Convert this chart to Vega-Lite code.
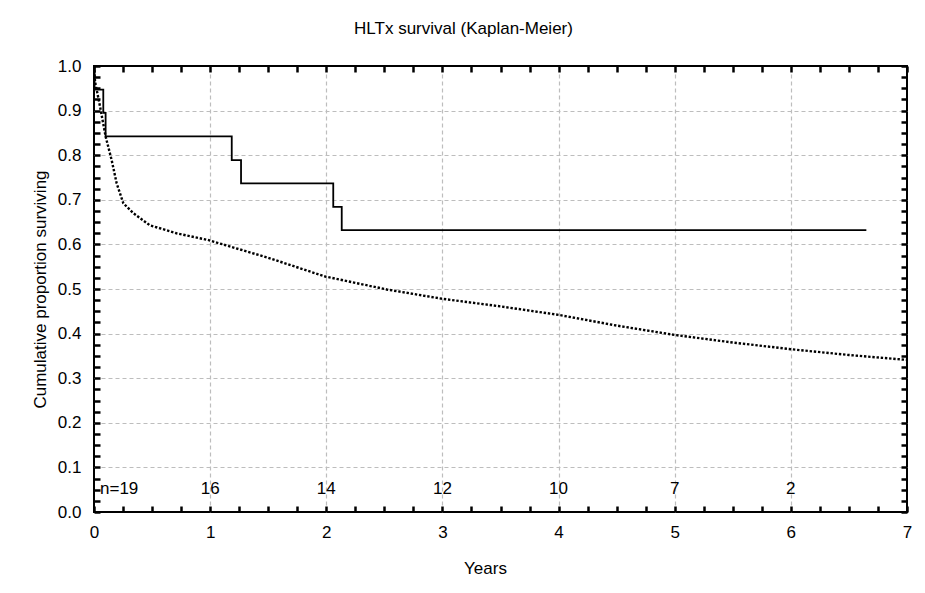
{
  "$schema": "https://vega.github.io/schema/vega-lite/v6.json",
  "autosize": {"type": "none"},
  "padding": {"left": 94, "top": 66, "right": 18, "bottom": 81},
  "width": 813,
  "height": 446,
  "background": "white",
  "title": {"text": "HLTx survival (Kaplan-Meier)", "font": "Liberation Sans", "fontSize": 17, "fontWeight": "normal", "color": "black", "anchor": "middle", "frame": "group", "dx": -37, "offset": 19},
  "config": {"view": {"stroke": "black", "strokeWidth": 2}, "font": "Liberation Sans"},
  "datasets": {
    "km": [
      {"years": 0, "surv": 1.0},
      {"years": 0.005, "surv": 0.947},
      {"years": 0.08, "surv": 0.895},
      {"years": 0.10, "surv": 0.842},
      {"years": 1.186, "surv": 0.789},
      {"years": 1.266, "surv": 0.737},
      {"years": 2.06, "surv": 0.684},
      {"years": 2.133, "surv": 0.632},
      {"years": 6.65, "surv": 0.632}
    ],
    "ref": [
      {"years": 0, "surv": 1.0},
      {"years": 0.009, "surv": 0.965},
      {"years": 0.052, "surv": 0.909},
      {"years": 0.10, "surv": 0.842},
      {"years": 0.152, "surv": 0.789},
      {"years": 0.195, "surv": 0.737},
      {"years": 0.253, "surv": 0.692},
      {"years": 0.339, "surv": 0.670},
      {"years": 0.48, "surv": 0.643},
      {"years": 0.71, "surv": 0.625},
      {"years": 0.98, "surv": 0.610},
      {"years": 1.5, "surv": 0.570},
      {"years": 1.99, "surv": 0.528},
      {"years": 2.52, "surv": 0.499},
      {"years": 3.0, "surv": 0.478},
      {"years": 3.5, "surv": 0.461},
      {"years": 4.0, "surv": 0.442},
      {"years": 4.5, "surv": 0.418},
      {"years": 5.0, "surv": 0.397},
      {"years": 5.5, "surv": 0.380},
      {"years": 6.0, "surv": 0.365},
      {"years": 6.5, "surv": 0.352},
      {"years": 7.0, "surv": 0.341}
    ],
    "risk": [
      {"years": 0, "label": "n=19"},
      {"years": 1, "label": "16"},
      {"years": 2, "label": "14"},
      {"years": 3, "label": "12"},
      {"years": 4, "label": "10"},
      {"years": 5, "label": "7"},
      {"years": 6, "label": "2"}
    ]
  },
  "layer": [
    {
      "data": {"name": "ref"},
      "mark": {"type": "line", "color": "black", "strokeWidth": 2.4, "strokeDash": [2.4, 1.8], "strokeCap": "butt", "clip": true},
      "encoding": {
        "x": {
          "field": "years", "type": "quantitative",
          "scale": {"domain": [0, 7], "nice": false, "zero": false},
          "axis": {
            "orient": "bottom", "title": "Years", "offset": -6, "domain": false,
            "values": [0,0.25,0.5,0.75,1,1.25,1.5,1.75,2,2.25,2.5,2.75,3,3.25,3.5,3.75,4,4.25,4.5,4.75,5,5.25,5.5,5.75,6,6.25,6.5,6.75,7],
            "labelExpr": "datum.value % 1 === 0 ? format(datum.value, 'd') : ''",
            "labelFont": "Liberation Sans", "labelFontSize": 17, "labelColor": "black", "labelPadding": 12,
            "labelFlush": false, "labelOverlap": false,
            "ticks": true, "tickColor": "black", "tickWidth": 2.5, "tickSize": 6,
            "grid": false,
            "titleFont": "Liberation Sans", "titleFontSize": 17, "titleFontWeight": "normal", "titleColor": "black",
            "titlePadding": 20, "titleX": 391
          }
        },
        "y": {
          "field": "surv", "type": "quantitative",
          "scale": {"domain": [0, 1], "nice": false},
          "axis": {
            "orient": "left", "title": "Cumulative proportion surviving", "offset": -6, "domain": false,
            "values": [0,0.025,0.05,0.075,0.1,0.125,0.15,0.175,0.2,0.225,0.25,0.275,0.3,0.325,0.35,0.375,0.4,0.425,0.45,0.475,0.5,0.525,0.55,0.575,0.6,0.625,0.65,0.675,0.7,0.725,0.75,0.775,0.8,0.825,0.85,0.875,0.9,0.925,0.95,0.975,1],
            "labelExpr": "abs(datum.value*10 - round(datum.value*10)) < 0.001 ? format(datum.value, '.1f') : ''",
            "labelFont": "Liberation Sans", "labelFontSize": 17, "labelColor": "black", "labelPadding": 13,
            "labelFlush": false, "labelOverlap": false,
            "ticks": true, "tickColor": "black", "tickWidth": 2.5, "tickSize": 6,
            "grid": true, "gridColor": "#bdbdbd", "gridDash": [4, 3], "gridWidth": 1.2,
            "gridOpacity": {"condition": {"test": "abs(datum.value*10 - round(datum.value*10)) < 0.001 && datum.value > 0.001 && datum.value < 0.999", "value": 1}, "value": 0},
            "titleFont": "Liberation Sans", "titleFontSize": 17, "titleFontWeight": "normal", "titleColor": "black",
            "titlePadding": 8
          }
        }
      }
    },
    {
      "data": {"name": "km"},
      "mark": {"type": "line", "color": "black", "strokeWidth": 1.8, "interpolate": "step-after", "clip": true},
      "encoding": {
        "x": {
          "field": "years", "type": "quantitative",
          "scale": {"domain": [0, 7], "nice": false, "zero": false},
          "axis": {
            "orient": "top", "title": null, "labels": false, "offset": -6, "domain": false,
            "values": [0,0.25,0.5,0.75,1,1.25,1.5,1.75,2,2.25,2.5,2.75,3,3.25,3.5,3.75,4,4.25,4.5,4.75,5,5.25,5.5,5.75,6,6.25,6.5,6.75,7],
            "ticks": true, "tickColor": "black", "tickWidth": 2.5, "tickSize": 6,
            "grid": true, "gridColor": "#bdbdbd", "gridDash": [4, 3], "gridWidth": 1.2,
            "gridOpacity": {"condition": {"test": "datum.value % 1 === 0 && datum.value > 0 && datum.value < 7", "value": 1}, "value": 0}
          }
        },
        "y": {
          "field": "surv", "type": "quantitative",
          "scale": {"domain": [0, 1], "nice": false},
          "axis": {
            "orient": "right", "title": null, "labels": false, "grid": false, "offset": -6, "domain": false,
            "values": [0,0.025,0.05,0.075,0.1,0.125,0.15,0.175,0.2,0.225,0.25,0.275,0.3,0.325,0.35,0.375,0.4,0.425,0.45,0.475,0.5,0.525,0.55,0.575,0.6,0.625,0.65,0.675,0.7,0.725,0.75,0.775,0.8,0.825,0.85,0.875,0.9,0.925,0.95,0.975,1],
            "ticks": true, "tickColor": "black", "tickWidth": 2.5, "tickSize": 6
          }
        }
      }
    },
    {
      "data": {"name": "risk"},
      "transform": [{"filter": "datum.years > 0"}],
      "mark": {"type": "text", "font": "Liberation Sans", "fontSize": 17, "color": "black", "align": "center", "baseline": "middle"},
      "encoding": {
        "x": {"field": "years", "type": "quantitative", "axis": null},
        "y": {"datum": 0.052, "type": "quantitative", "axis": null},
        "text": {"field": "label", "type": "nominal"}
      }
    },
    {
      "data": {"name": "risk"},
      "transform": [{"filter": "datum.years == 0"}],
      "mark": {"type": "text", "font": "Liberation Sans", "fontSize": 17, "color": "black", "align": "left", "baseline": "middle", "dx": 6},
      "encoding": {
        "x": {"field": "years", "type": "quantitative", "axis": null},
        "y": {"datum": 0.052, "type": "quantitative", "axis": null},
        "text": {"field": "label", "type": "nominal"}
      }
    }
  ],
  "resolve": {"axis": {"x": "independent", "y": "independent"}}
}
